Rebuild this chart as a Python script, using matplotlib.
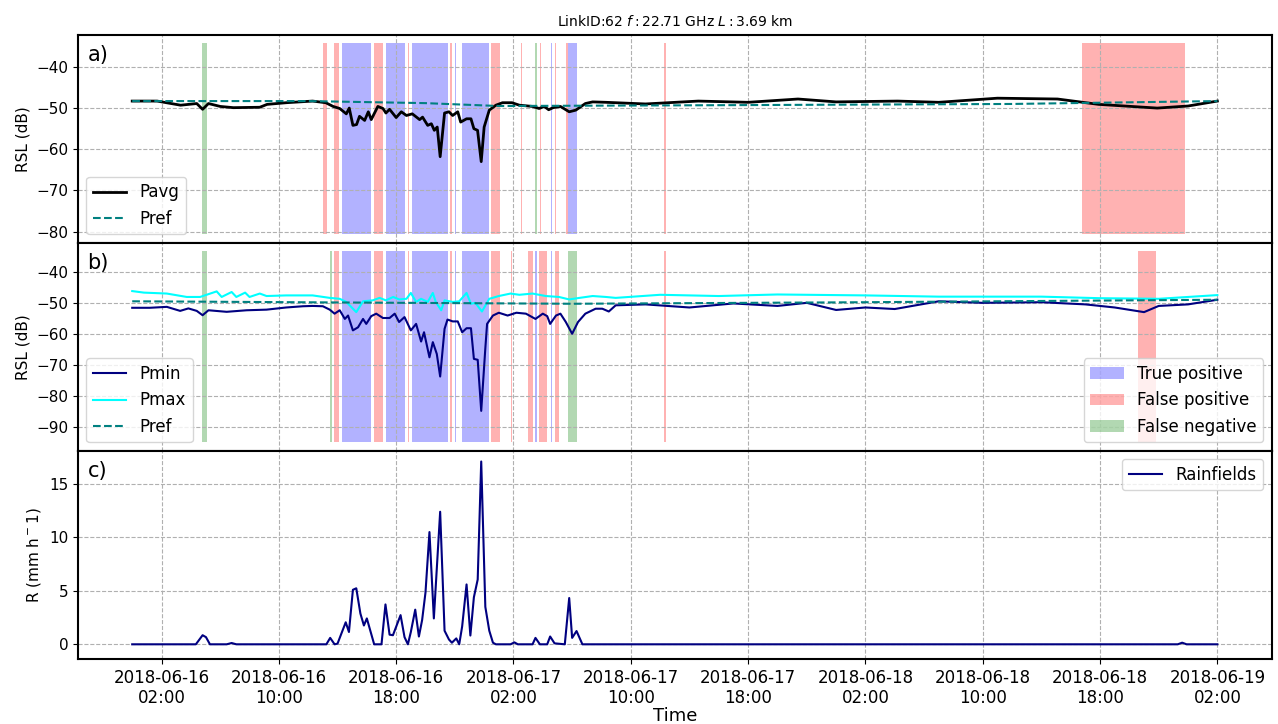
import numpy as np
import pandas as pd
import matplotlib
matplotlib.use("Agg")
import matplotlib.pyplot as plt
import matplotlib.dates as mdates

t0 = pd.Timestamp("2018-06-16 00:00")

# hours after t0, RSL in dB
pavg_h = [0.0, 1.7, 3.3, 4.4, 4.8, 5.2, 6.0, 6.9, 8.7, 9.2, 10.5, 12.3, 13.2, 13.7, 14.15, 14.6, 14.8,
          15.05, 15.3, 15.5, 15.85, 16.1, 16.3, 16.75, 17.1, 17.3, 17.55, 18.0, 18.35, 18.7, 19.1, 19.6,
          19.8, 20.15, 20.4, 20.6, 20.8, 21.0, 21.3, 21.6, 21.85, 22.2, 22.4, 22.8, 23.1, 23.3, 23.55,
          23.8, 24.0, 24.35, 24.8, 25.25, 25.9, 26.4, 27.3, 27.75, 28.1, 28.4, 28.7, 29.2, 29.8, 30.25,
          30.9, 31.4, 32.3, 35.0, 38.6, 42.0, 45.4, 48.0, 52.2, 55.0, 59.0, 63.1, 65.9, 69.9, 72.0, 74.0]
pavg = [-48.3, -48.3, -49.3, -48.9, -50.3, -48.9, -49.6, -49.9, -49.8, -49.1, -48.7, -48.3, -48.7, -49.6,
        -50.1, -51.4, -50.0, -54.2, -54.0, -52.0, -53.0, -50.9, -52.8, -49.6, -50.1, -51.2, -50.3, -52.3,
        -50.9, -51.8, -51.4, -52.8, -52.2, -54.2, -53.8, -55.4, -54.6, -61.8, -51.2, -50.9, -51.8, -50.9,
        -53.4, -52.6, -52.6, -55.0, -55.4, -63.0, -54.6, -50.5, -49.3, -48.7, -48.7, -49.3, -49.6, -50.1,
        -49.6, -50.4, -49.9, -49.6, -50.9, -50.5, -48.9, -48.5, -48.6, -49.0, -48.3, -48.6, -47.8, -48.5,
        -48.3, -48.6, -47.6, -47.8, -49.1, -50.0, -49.5, -48.3]
prefa_h = [0, 12, 20, 25, 40, 60, 74]
prefa = [-48.3, -48.3, -48.8, -49.5, -49.3, -49.0, -48.3]

pmin_h = [0.0, 1.2, 2.36, 3.27, 3.83, 4.4, 4.8, 5.2, 6.44, 7.8, 9.16, 10.5, 11.65, 12.3, 13.0, 13.47,
          13.8, 14.15, 14.5, 14.72, 15.05, 15.4, 15.74, 15.96, 16.3, 16.64, 17.1, 17.55, 17.9, 18.2,
          18.57, 19.0, 19.36, 19.7, 19.9, 20.27, 20.5, 20.77, 21.0, 21.3, 21.5, 21.86, 22.2, 22.5, 22.8,
          23.1, 23.3, 23.56, 23.8, 24.08, 24.2, 24.6, 25.0, 25.6, 26.2, 26.85, 27.5, 28.0, 28.3, 28.5,
          28.9, 29.2, 29.57, 30.0, 30.4, 30.9, 31.6, 32.06, 32.5, 32.97, 35.0, 38.0, 41.0, 44.0, 46.0,
          48.0, 50.0, 52.0, 55.0, 58.0, 62.0, 65.0, 67.0, 69.0, 70.0, 72.0, 74.0]
pmin = [-51.6, -51.6, -51.3, -52.6, -51.8, -52.6, -54.0, -52.4, -52.9, -52.4, -52.2, -51.5, -51.1, -51.0,
        -51.1, -52.2, -53.5, -52.4, -55.2, -54.1, -58.9, -57.9, -55.2, -56.8, -54.3, -53.5, -54.9, -54.9,
        -53.5, -56.2, -54.6, -58.9, -56.8, -62.5, -59.5, -67.6, -62.7, -66.5, -73.8, -58.4, -55.4, -56.0,
        -56.0, -59.5, -58.2, -58.2, -68.1, -68.4, -84.9, -64.7, -56.8, -54.1, -53.2, -54.1, -53.2, -53.5,
        -55.2, -53.5, -54.3, -56.8, -54.1, -53.5, -56.2, -60.0, -56.2, -53.5, -51.9, -51.9, -52.8, -50.8,
        -50.5, -51.5, -50.2, -51.0, -50.0, -52.3, -51.5, -52.0, -49.5, -50.0, -49.8, -50.5, -51.5, -53.0,
        -51.0, -50.5, -49.0]
pmax_h = [0.0, 0.8, 2.36, 3.72, 4.63, 5.76, 6.1, 6.78, 7.1, 7.7, 8.0, 8.7, 9.16, 10.5, 12.3, 13.47,
          14.15, 14.6, 15.28, 15.74, 16.4, 16.87, 17.3, 17.8, 18.2, 18.7, 19.0, 19.36, 19.7, 20.15, 20.5,
          20.7, 21.07, 21.3, 21.86, 22.3, 22.8, 23.1, 23.4, 23.85, 24.35, 25.0, 25.8, 26.4, 27.3, 28.2,
          29.1, 29.8, 30.5, 31.4, 32.3, 32.97, 36.0, 40.0, 44.0, 50.0, 55.0, 62.0, 66.0, 70.0, 74.0]
pmax = [-46.2, -46.7, -47.0, -48.1, -48.1, -46.3, -48.1, -46.5, -48.1, -46.7, -48.1, -47.0, -47.8, -47.6,
        -47.6, -48.4, -48.7, -49.7, -53.0, -49.5, -49.2, -48.4, -49.2, -48.1, -48.9, -48.7, -46.8, -49.7,
        -48.7, -49.7, -46.8, -49.7, -52.4, -49.2, -49.7, -49.5, -46.8, -50.3, -50.0, -52.8, -48.7, -47.8,
        -47.0, -47.4, -47.0, -47.8, -48.1, -48.9, -48.4, -47.8, -48.1, -48.4, -47.4, -47.8, -47.3, -47.6,
        -48.0, -48.0, -48.5, -48.7, -47.5]
prefb_h = [0, 15, 30, 50, 74]
prefb = [-49.5, -49.9, -50.3, -49.8, -49.0]

rain_h = [0.0, 4.34, 4.8, 5.03, 5.3, 6.44, 6.78, 7.1, 13.24, 13.5, 13.8, 14.0, 14.56, 14.78, 15.05, 15.28,
          15.56, 15.8, 16.0, 16.5, 17.0, 17.27, 17.55, 17.78, 18.3, 18.57, 18.8, 19.0, 19.3, 19.55, 19.77,
          20.0, 20.27, 20.57, 21.0, 21.3, 21.6, 21.8, 22.1, 22.3, 22.5, 22.8, 23.06, 23.3, 23.56, 23.8,
          24.08, 24.35, 24.6, 24.8, 25.8, 26.06, 26.3, 27.3, 27.5, 27.8, 28.3, 28.5, 28.8, 29.5, 29.8,
          30.0, 30.3, 30.7, 71.3, 71.6, 71.9, 74.0]
rain = [0, 0, 0.85, 0.67, 0, 0, 0.12, 0, 0, 0.6, 0, 0.06, 2.06, 1.15, 5.1, 5.24, 2.88, 1.76, 2.42, 0, 0,
        3.73, 0.9, 0.85, 2.73, 0.67, 0, 1.15, 3.24, 0.73, 2.27, 4.85, 10.5, 2.42, 12.4, 1.27, 0.45, 0.15,
        0.55, 0, 1.67, 5.6, 0.82, 4.4, 6.06, 17.1, 3.5, 1.27, 0.15, 0, 0, 0.18, 0, 0, 0.6, 0, 0, 0.73,
        0.09, 0, 4.33, 0.6, 1.24, 0, 0, 0.15, 0, 0]

# classified intervals (start hour, end hour)
tp_a = [(14.3, 16.3), (17.3, 18.6), (19.05, 21.55), (22.0, 22.1), (22.5, 24.3), (28.55, 28.65), (29.75, 30.35)]
fp_a = [(13.0, 13.3), (13.75, 14.1), (16.5, 17.1), (18.8, 18.9), (21.7, 21.8), (22.2, 22.25), (24.5, 25.1),
        (26.5, 26.6), (27.8, 27.9), (28.8, 28.9), (29.6, 29.7), (36.25, 36.4), (64.8, 71.8)]
fn_a = [(4.75, 5.1), (27.5, 27.6)]
tp_b = [(14.3, 16.3), (17.3, 18.6), (19.05, 21.55), (22.0, 22.1), (22.5, 24.3), (27.5, 27.6), (28.55, 28.65)]
fp_b = [(13.75, 14.1), (16.5, 17.1), (18.8, 18.9), (21.7, 21.8), (22.2, 22.25), (24.5, 25.1), (25.8, 25.9),
        (27.0, 27.3), (27.75, 28.3), (28.8, 29.1), (36.25, 36.4), (68.6, 69.8)]
fn_b = [(4.75, 5.1), (13.5, 13.6), (29.75, 30.35)]


def T(hours):
    return t0 + pd.to_timedelta(np.asarray(hours, dtype=float), unit="h")


def spans(ax, tp, fp, fn):
    for i, (a, b) in enumerate(tp):
        ax.axvspan(T([a])[0], T([b])[0], ymin=0.04, ymax=0.96, color="blue", alpha=0.3, lw=0,
                   label="True positive" if i == 0 else None)
    for i, (a, b) in enumerate(fp):
        ax.axvspan(T([a])[0], T([b])[0], ymin=0.04, ymax=0.96, color="red", alpha=0.3, lw=0,
                   label="False positive" if i == 0 else None)
    for i, (a, b) in enumerate(fn):
        ax.axvspan(T([a])[0], T([b])[0], ymin=0.04, ymax=0.96, color="green", alpha=0.3, lw=0,
                   label="False negative" if i == 0 else None)


fig, (ax1, ax2, ax3) = plt.subplots(3, 1, sharex=True, figsize=(12.78, 7.24), dpi=100)
plt.subplots_adjust(left=0.061, right=0.995, top=0.952, bottom=0.09, hspace=0)

spans(ax1, tp_a, fp_a, fn_a)
l1, = ax1.plot(T(pavg_h), pavg, color="black", lw=2, label="Pavg")
l2, = ax1.plot(T(prefa_h), prefa, color="teal", ls="--", lw=1.5, label="Pref")
ax1.legend(handles=[l1, l2], loc="lower left", fontsize=12)
ax1.set_ylim(-82.7, -32.2)
ax1.set_yticks([-80, -70, -60, -50, -40])
ax1.set_ylabel("RSL (dB)", fontsize=11)
ax1.set_title("LinkID:62 $f:$22.71 GHz $L:$3.69 km", fontsize=10)

spans(ax2, tp_b, fp_b, fn_b)
m1, = ax2.plot(T(pmin_h), pmin, color="navy", lw=1.5, label="Pmin")
m2, = ax2.plot(T(pmax_h), pmax, color="cyan", lw=1.5, label="Pmax")
m3, = ax2.plot(T(prefb_h), prefb, color="teal", ls="--", lw=1.5, label="Pref")
leg = ax2.legend(handles=[m1, m2, m3], loc="lower left", fontsize=12)
ax2.add_artist(leg)
h, lab = ax2.get_legend_handles_labels()
sp = [hh for hh, ll in zip(h, lab) if ll in ("True positive", "False positive", "False negative")]
ax2.legend(handles=sp, loc="lower right", fontsize=12)
ax2.set_ylim(-97.8, -30.6)
ax2.set_yticks([-90, -80, -70, -60, -50, -40])
ax2.set_ylabel("RSL (dB)", fontsize=11)

ax3.plot(T(rain_h), rain, color="navy", lw=1.5, label="Rainfields")
ax3.legend(loc="upper right", fontsize=12)
ax3.set_ylim(-1.36, 18.1)
ax3.set_yticks([0, 5, 10, 15])
ax3.set_ylabel("R (mm h$^-$1)", fontsize=11)
ax3.set_xlabel("Time", fontsize=13, labelpad=0)

for ax, lbl in zip((ax1, ax2, ax3), ("a)", "b)", "c)")):
    ax.grid(True, ls="--", color="#b0b0b0")
    ax.text(0.008, 0.95, lbl, transform=ax.transAxes, fontsize=15, va="top")
    ax.tick_params(labelsize=11)
    for s in ax.spines.values():
        s.set_linewidth(1.5)

ax3.tick_params(axis="x", labelsize=12)
ax3.set_xticks(T(np.arange(2, 75, 8)))
ax3.xaxis.set_major_formatter(mdates.DateFormatter("%Y-%m-%d\n%H:%M"))
ax3.set_xlim(T([-3.7])[0], T([77.7])[0])

fig.savefig("out.png", dpi=100)
